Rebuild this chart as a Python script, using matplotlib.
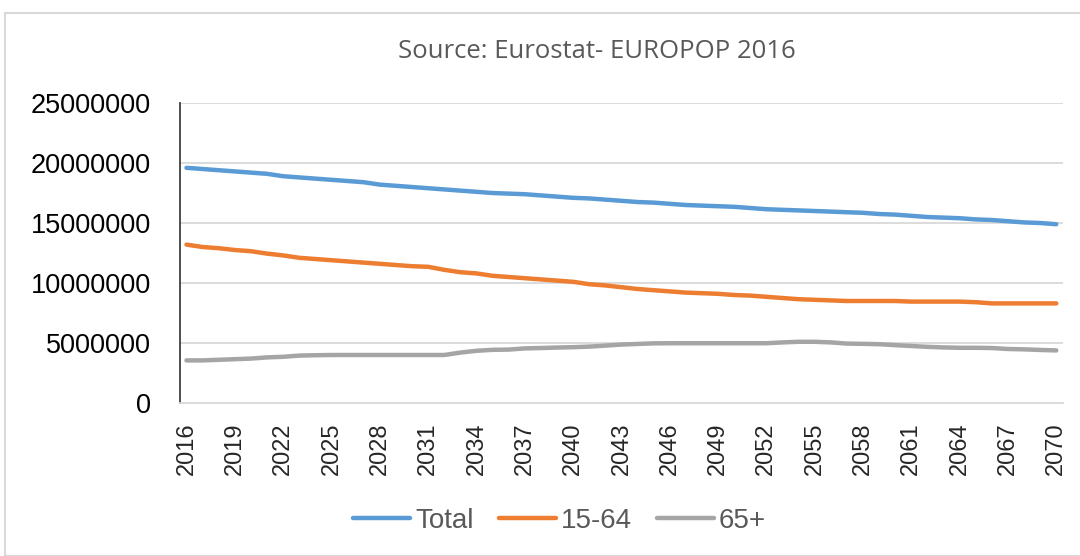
import matplotlib
matplotlib.use("Agg")
import matplotlib.pyplot as plt
from matplotlib.patches import Rectangle

years = list(range(2016, 2071))

total = [19.6, 19.5, 19.4, 19.3, 19.2, 19.1, 18.9, 18.8, 18.7, 18.6,
         18.5, 18.4, 18.2, 18.1, 18.0, 17.9, 17.8, 17.7, 17.6, 17.5,
         17.45, 17.4, 17.3, 17.2, 17.1, 17.05, 16.95, 16.85, 16.75, 16.7,
         16.6, 16.5, 16.45, 16.4, 16.35, 16.25, 16.15, 16.1, 16.05, 16.0,
         15.95, 15.9, 15.85, 15.75, 15.7, 15.6, 15.5, 15.45, 15.4, 15.3,
         15.25, 15.15, 15.05, 15.0, 14.9]

age_15_64 = [13.2, 13.0, 12.9, 12.75, 12.65, 12.45, 12.3, 12.1, 12.0, 11.9,
             11.8, 11.7, 11.6, 11.5, 11.4, 11.35, 11.1, 10.9, 10.8, 10.6,
             10.5, 10.4, 10.3, 10.2, 10.1, 9.9, 9.8, 9.65, 9.5, 9.4,
             9.3, 9.2, 9.15, 9.1, 9.0, 8.95, 8.85, 8.75, 8.65, 8.6,
             8.55, 8.5, 8.5, 8.5, 8.5, 8.45, 8.45, 8.45, 8.45, 8.4,
             8.3, 8.3, 8.3, 8.3, 8.3]

age_65_plus = [3.55, 3.55, 3.6, 3.65, 3.7, 3.8, 3.85, 3.95, 3.98, 4.0,
               4.0, 4.0, 4.0, 4.0, 4.0, 4.0, 4.0, 4.2, 4.35, 4.43,
               4.45, 4.55, 4.58, 4.62, 4.65, 4.7, 4.78, 4.87, 4.92, 4.97,
               4.98, 4.98, 4.98, 4.98, 4.98, 4.98, 4.98, 5.05, 5.1, 5.1,
               5.05, 4.95, 4.93, 4.9, 4.82, 4.75, 4.68, 4.63, 4.6, 4.6,
               4.58, 4.5, 4.47, 4.42, 4.38]

series_names = ["Total", "15-64", "65+"]
colors = ["#5B9BD5", "#ED7D31", "#A5A5A5"]
title = "Source: Eurostat- EUROPOP 2016"

fig = plt.figure(figsize=(10.8, 5.56), dpi=100)
ax = fig.add_axes([0.1667, 0.2752, 0.8173, 0.5395])

# light frame around the chart area
fig.patches.append(Rectangle((5 / 1080, 0), 1.0, 1 - 13 / 556, transform=fig.transFigure,
                             fill=False, edgecolor="#D9D9D9", linewidth=1.5, clip_on=False))

for vals, name, c in zip([total, age_15_64, age_65_plus], series_names, colors):
    ax.plot(years, [v * 1e6 for v in vals], color=c, linewidth=3.2,
            solid_capstyle="round", label=name)

ax.set_ylim(0, 25000000)
ax.set_xlim(2015.6, 2070.4)
ax.set_yticks(range(0, 25000001, 5000000))
ax.set_yticklabels([str(v) for v in range(0, 25000001, 5000000)])
ax.set_xticks(years[::3])
ax.set_xticklabels([str(y) for y in years[::3]], rotation=90)

ax.yaxis.grid(True, color="#D9D9D9", linewidth=1.3)
ax.set_axisbelow(True)
ax.tick_params(axis="both", length=0)
ax.tick_params(axis="y", labelsize=19.5, pad=21, labelcolor="#000000")
ax.tick_params(axis="x", labelsize=17, pad=14, labelcolor="#262626")
for lab in ax.get_xticklabels() + ax.get_yticklabels():
    lab.set_family("Liberation Sans")

for s in ["top", "right"]:
    ax.spines[s].set_visible(False)
ax.spines["left"].set_color("#404040")
ax.spines["left"].set_linewidth(1.3)
ax.spines["bottom"].set_color("#D9D9D9")
ax.spines["bottom"].set_linewidth(1.3)

fig.text(0.553, 0.908, title, ha="center", va="center", fontsize=18.5,
         color="#595959", family="Open Sans")

fig.legend(loc="center", bbox_to_anchor=(0.518, 0.063), ncol=3, frameon=False,
           handlelength=2.05, handletextpad=0.18, columnspacing=0.9,
           labelcolor="#595959", prop={"family": "Liberation Sans", "size": 20})

fig.savefig("out.png", dpi=100)
